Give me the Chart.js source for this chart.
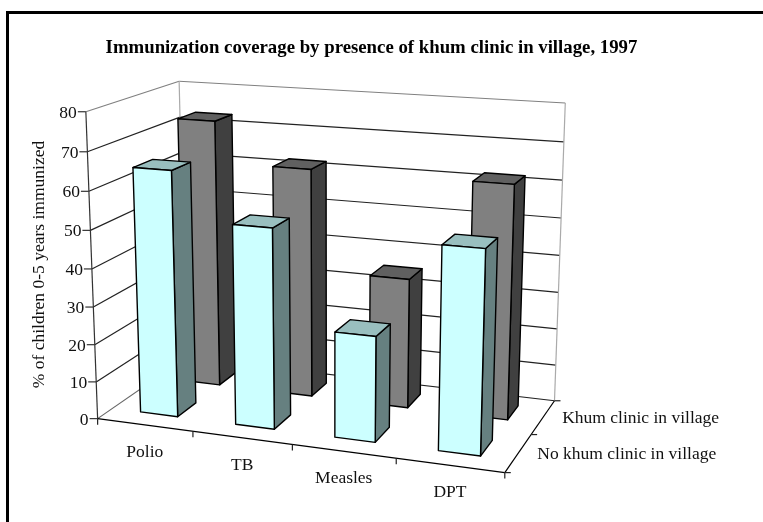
<!DOCTYPE html>
<html><head><meta charset="utf-8">
<style>html,body{margin:0;padding:0;background:#fff}canvas{display:block}</style>
<script src="https://cdn.jsdelivr.net/npm/chart.js@4"></script>
</head><body><canvas id="c" width="763" height="522"></canvas>
<script>
const titleText = "Immunization coverage by presence of khum clinic in village, 1997";
const yAxisTitle = "% of children 0-5 years immunized";
const categories = ["Polio", "TB", "Measles", "DPT"];
const seriesNames = ["No khum clinic in village", "Khum clinic in village"];
const noClinic = [65, 52.5, 27.5, 52];
const withClinic = [73, 62, 35, 62];

const FONT = '"Liberation Serif"';
const SIZE = 17.5;
// view calibration: world corner (u,v,w) of the plot box -> where it appears on the page
const view = [
  [0,0,0, 97.3,418.3],[0,0,1, 86,112],[0,1,1, 179,81],[1,1,1, 565.3,103],
  [1,1,0, 554.3,400.7],[1,0,0, 505,472.7],[0,1,0, 186,358]
];
function solve(A,b){const n=b.length;const M=A.map((r,i)=>[...r,b[i]]);
  for(let i=0;i<n;i++){let p=i;for(let k=i+1;k<n;k++)if(Math.abs(M[k][i])>Math.abs(M[p][i]))p=k;
    [M[i],M[p]]=[M[p],M[i]];
    for(let k=0;k<n;k++){if(k===i)continue;const f=M[k][i]/M[i][i];for(let j=i;j<=n;j++)M[k][j]-=f*M[i][j];}}
  return M.map((r,i)=>r[n]/r[i]);}
function fit(pts){const R=[],B=[];
  pts.forEach(([u,v,w,x,y])=>{
    R.push([u,v,w,1,0,0,0,0,-x*u,-x*v,-x*w]);B.push(x);
    R.push([0,0,0,0,u,v,w,1,-y*u,-y*v,-y*w]);B.push(y);});
  const n=11,A=[],b=[];
  for(let i=0;i<n;i++){A.push([]);let s=0;for(let j=0;j<n;j++){let t=0;R.forEach(r=>t+=r[i]*r[j]);A[i].push(t);}
    R.forEach((r,k)=>s+=r[i]*B[k]);b.push(s);}
  return solve(A,b);}
const P = fit(view);
function proj(u,v,w){const d=P[8]*u+P[9]*v+P[10]*w+1;
  return [(P[0]*u+P[1]*v+P[2]*w+P[3])/d,(P[4]*u+P[5]*v+P[6]*w+P[7])/d];}

const rowFill = [
  {front:"#CCFFFF",side:"#668080",top:"#99BFBF"},
  {front:"#808080",side:"#404040",top:"#606060"}
];
const depthFrac = 0.42;

function line(ctx,a,b,color,lw){ctx.strokeStyle=color;ctx.lineWidth=lw||1.2;ctx.beginPath();ctx.moveTo(a[0],a[1]);ctx.lineTo(b[0],b[1]);ctx.stroke();}
function face(ctx,pts,fill){ctx.fillStyle=fill;ctx.strokeStyle="#000";ctx.lineWidth=1.4;ctx.lineJoin="round";ctx.beginPath();
  pts.forEach((p,i)=>i?ctx.lineTo(p[0],p[1]):ctx.moveTo(p[0],p[1]));ctx.closePath();ctx.fill();ctx.stroke();}

const scene3d = {
  id:"scene3d",
  afterDatasetsDraw(chart){
    const ctx=chart.ctx,a=chart.chartArea,ys=chart.scales.y;
    const W=px=>(a.bottom-px)/(a.bottom-a.top), U=px=>(px-a.left)/(a.right-a.left);
    ctx.save();
    // page frame: top and left rules run off the page
    ctx.fillStyle="#000";ctx.fillRect(6,11,757,3);ctx.fillRect(6,11,3,511);
    // walls and grid
    const ticks=ys.ticks.map(t=>t.value);
    ticks.forEach(val=>{
      const w=W(ys.getPixelForValue(val));
      const col=val===ys.max?"#808080":"#222";
      line(ctx,proj(0,0,w),proj(0,1,w),val===0?"#666":col);
      line(ctx,proj(0,1,w),proj(1,1,w),col);
      const p=proj(0,0,w);
      line(ctx,[p[0]-8,p[1]],p,"#333");
    });
    line(ctx,proj(0,1,0),proj(0,1,1),"#aaa");
    line(ctx,proj(1,1,0),proj(1,1,1),"#aaa");
    line(ctx,proj(0,0,0),proj(0,0,1),"#333");
    // floor edges
    line(ctx,proj(0,0,0),proj(1,0,0),"#000");
    line(ctx,proj(1,0,0),proj(1,1,0),"#000");
    // category ticks
    const n=categories.length;
    for(let i=0;i<=n;i++){const p=proj(i/n,0,0);line(ctx,p,[p[0],p[1]+6],"#222");}
    for(let i=0;i<=2;i++){const p=proj(1,i/2,0);line(ctx,p,[p[0]+6,p[1]],"#222");}
    // bars, back row first
    [1,0].forEach(di=>{
      const meta=chart.getDatasetMeta(di),c=rowFill[di];
      const vc=(di+0.5)/2+0.01,v0=vc-depthFrac/4,v1=vc+depthFrac/4;
      meta.data.forEach(el=>{
        const u0=U(el.x-el.width/2),u1=U(el.x+el.width/2),w=W(el.y);
        face(ctx,[proj(u1,v0,0),proj(u1,v1,0),proj(u1,v1,w),proj(u1,v0,w)],c.side);
        face(ctx,[proj(u0,v0,w),proj(u1,v0,w),proj(u1,v1,w),proj(u0,v1,w)],c.top);
        face(ctx,[proj(u0,v0,0),proj(u1,v0,0),proj(u1,v0,w),proj(u0,v0,w)],c.front);
      });
    });
    // text
    ctx.fillStyle="#111";ctx.font=SIZE+"px "+FONT;ctx.textBaseline="middle";
    ctx.textAlign="right";
    ys.ticks.forEach(t=>{const p=proj(0,0,W(ys.getPixelForValue(t.value)));ctx.fillText(t.label,p[0]-9,p[1]+1.5);});
    ctx.textAlign="center";
    categories.forEach((name,i)=>{const p=proj((i+0.5)/n,0,0);ctx.fillText(name,p[0],p[1]+27.5);});
    ctx.textAlign="left";
    seriesNames.forEach((name,i)=>{const p=proj(1,(i+0.5)/2,0);ctx.fillText(name,p[0]+19,p[1]+1);});
    ctx.save();ctx.translate(39,264.5);ctx.rotate(-Math.PI/2);ctx.textAlign="center";ctx.fillText(yAxisTitle,0,0);ctx.restore();
    ctx.restore();
  }
};

new Chart(document.getElementById("c"),{
  type:"bar",
  data:{labels:categories,datasets:[
    {label:seriesNames[0],data:noClinic,backgroundColor:"rgba(0,0,0,0)"},
    {label:seriesNames[1],data:withClinic,backgroundColor:"rgba(0,0,0,0)"}
  ]},
  options:{
    responsive:false,animation:false,
    layout:{padding:{left:20,right:40,top:37,bottom:20}},
    datasets:{bar:{grouped:false,barPercentage:0.395,categoryPercentage:1}},
    scales:{
      x:{display:false},
      y:{display:false,min:0,max:80,ticks:{stepSize:10}}
    },
    plugins:{
      legend:{display:false},tooltip:{enabled:false},
      title:{display:true,text:titleText,color:"#000",padding:0,font:{family:FONT,size:18.8,weight:"bold"}}
    }
  },
  plugins:[scene3d]
});
</script></body></html>
